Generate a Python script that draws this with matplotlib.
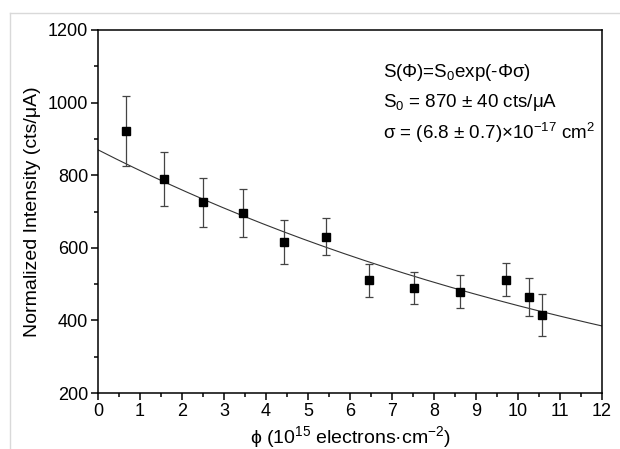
import numpy as np
import matplotlib
matplotlib.use('Agg')
import matplotlib.pyplot as plt
from matplotlib.lines import Line2D

plt.rcParams.update({
    'font.family': ['Liberation Sans', 'DejaVu Sans'],
    'mathtext.fontset': 'custom',
    'mathtext.rm': 'Liberation Sans',
    'mathtext.it': 'Liberation Sans:italic',
    'mathtext.bf': 'Liberation Sans:bold',
    'font.size': 10,
})

# fluence (1e15 electrons/cm^2), normalized intensity and error
fluence = [0.665, 1.576, 2.51, 3.46, 4.43, 5.43, 6.46, 7.53, 8.61, 9.71, 10.27, 10.575]
intensity = [922, 790, 725, 697, 616, 631, 510, 489, 479, 512, 464, 415]
err = [96, 75, 67, 66, 60, 52, 45, 43, 45, 45, 52, 57]

# fit parameters from the annotation
S0 = 870
sigma = 0.068  # in 1e-15 cm^2

fig = plt.figure(figsize=(6.2, 4.49), dpi=100)
ax = fig.add_axes([0.158, 0.1247, 0.813, 0.8085])

xfit = np.linspace(0, 12, 200)
ax.plot(xfit, S0 * np.exp(-sigma * xfit), color='#333333', lw=0.8)
ax.errorbar(fluence, intensity, yerr=err, fmt='s', color='black', ms=6,
            ecolor='#444444', elinewidth=0.9, capsize=3, capthick=0.9)

ax.set_xlim(0, 12)
ax.set_ylim(200, 1200)
ax.set_xticks(range(0, 13))
ax.set_yticks(range(200, 1201, 200))
ax.set_xticks(np.arange(0.5, 12, 1), minor=True)
ax.set_yticks(range(300, 1200, 200), minor=True)
ax.tick_params(which='both', direction='out', top=False, right=False, labelsize=13)
ax.tick_params(which='major', length=5, width=1.1, pad=2)
ax.tick_params(which='minor', length=3, width=1.1)
for s in ax.spines.values():
    s.set_linewidth(1.1)

ax.set_xlabel(r'ϕ (10$^{15}$ electrons·cm$^{-2}$)', fontsize=14, labelpad=3)
ax.set_ylabel(r'Normalized Intensity (cts/μA)', fontsize=14, labelpad=5)

ax.text(0.565, 0.884, r'S(Φ)=S$_0$exp(-Φσ)', transform=ax.transAxes,
        fontsize=13.5, va='center')
ax.text(0.565, 0.799, r'S$_0$ = 870 $\pm$ 40 cts/μA', transform=ax.transAxes,
        fontsize=13.5, va='center')
ax.text(0.565, 0.716, r'σ = (6.8 $\pm$ 0.7)×10$^{-17}$ cm$^2$', transform=ax.transAxes,
        fontsize=13.5, va='center')

# light frame of the original screenshot
fig.add_artist(Line2D([10 / 620, 1], [0.971, 0.971], transform=fig.transFigure, color='#d9d9d9', lw=1))
fig.add_artist(Line2D([10 / 620, 10 / 620], [0, 0.971], transform=fig.transFigure, color='#d9d9d9', lw=1))

fig.savefig('out.png', dpi=100)
